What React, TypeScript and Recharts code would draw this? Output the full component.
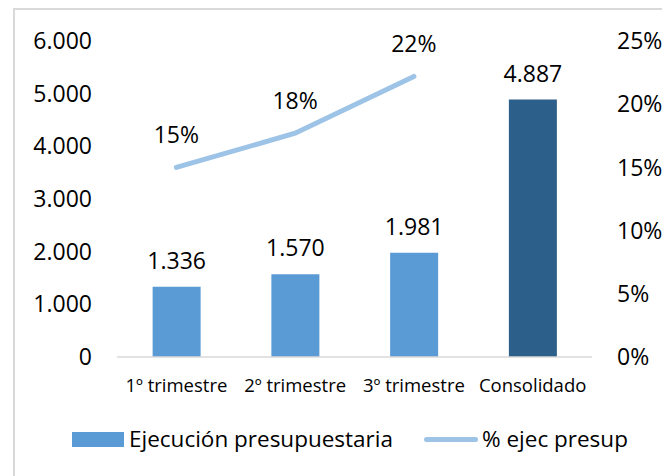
import React from "react";
import { ComposedChart, Bar, Line, XAxis, YAxis, Legend, LabelList, Cell } from "recharts";

const categories = ["1º trimestre", "2º trimestre", "3º trimestre", "Consolidado"];
const ejecucion = [1336, 1570, 1981, 4887];
const pctEjec = [0.15, 0.177, 0.222, null];
const barColors = ["#5B9BD5", "#5B9BD5", "#5B9BD5", "#2C5F8A"];
const leftTicks = [0, 1000, 2000, 3000, 4000, 5000, 6000];
const rightTicks = [0, 0.05, 0.1, 0.15, 0.2, 0.25];

const data = categories.map((name, i) => ({ name, ejecucion: ejecucion[i], pct: pctEjec[i] }));

const FONT = "'Open Sans', sans-serif";

const fmtMiles = (v: number) => String(Math.round(v)).replace(/\B(?=(\d{3})+(?!\d))/g, ".");
const fmtPct = (v: number) => `${Math.round(v * 100)}%`;

const barLabel = (props: any) => {
  const { x, y, width, value } = props;
  return (
    <text x={x + width / 2} y={y - 27} textAnchor="middle" dominantBaseline="central" fontSize={23} fontFamily={FONT} fill="#000">
      {fmtMiles(value)}
    </text>
  );
};

const pctLabel = (props: any) => {
  const { x, y, value } = props;
  if (value == null) return null;
  return (
    <text x={x} y={y - 33} textAnchor="middle" dominantBaseline="central" fontSize={23} fontFamily={FONT} fill="#000">
      {fmtPct(value)}
    </text>
  );
};

const renderLegend = () => (
  <div style={{ position: "relative", width: 662, height: 49, fontFamily: FONT, fontSize: 22.5, color: "#000" }}>
    <div style={{ position: "absolute", left: 72, top: 25, width: 52, height: 15, background: "#5B9BD5" }} />
    <div style={{ position: "absolute", left: 129, top: 17, lineHeight: "30px", whiteSpace: "nowrap" }}>Ejecución presupuestaria</div>
    <div style={{ position: "absolute", left: 424, top: 30, width: 54, height: 5, borderRadius: 3, background: "#9DC3E6" }} />
    <div style={{ position: "absolute", left: 482, top: 17, lineHeight: "30px", whiteSpace: "nowrap" }}>% ejec presup</div>
  </div>
);

export default function App() {
  return (
    <div style={{ position: "absolute", left: 0, top: 0, width: 662, height: 476, overflow: "hidden", background: "#fff" }}>
      <div style={{ position: "absolute", left: 13, top: 8, width: 700, height: 520, border: "2px solid #D9D9D9" }} />
      <div style={{ position: "absolute", left: 0, top: 0 }}>
        <ComposedChart width={662} height={476} data={data} margin={{ top: 41, right: 0, bottom: 20, left: 0 }} barCategoryGap="30%">
          <XAxis
            dataKey="name"
            axisLine={{ stroke: "#D9D9D9", strokeWidth: 1.5 }}
            tickLine={false}
            tickSize={0}
            tickMargin={22}
            height={50}
            interval={0}
            tick={{ fill: "#000", fontSize: 18.5, fontFamily: FONT }}
          />
          <YAxis
            yAxisId="left"
            width={117}
            domain={[0, 6000]}
            ticks={leftTicks}
            tickFormatter={fmtMiles}
            axisLine={false}
            tickLine={false}
            tickSize={0}
            tickMargin={25}
            tick={{ fill: "#000", fontSize: 23, fontFamily: FONT }}
          />
          <YAxis
            yAxisId="right"
            orientation="right"
            width={70}
            domain={[0, 0.25]}
            ticks={rightTicks}
            tickFormatter={fmtPct}
            axisLine={false}
            tickLine={false}
            tickSize={0}
            tickMargin={25}
            tick={{ fill: "#000", fontSize: 23, fontFamily: FONT }}
          />
          <Legend
            verticalAlign="bottom"
            height={49}
            content={renderLegend}
            wrapperStyle={{ left: 0, top: 407, width: 662, height: 49 }}
          />
          <Bar yAxisId="left" dataKey="ejecucion" name="Ejecución presupuestaria" fill="#5B9BD5" isAnimationActive={false}>
            {data.map((d, i) => (
              <Cell key={d.name} fill={barColors[i]} />
            ))}
            <LabelList dataKey="ejecucion" content={barLabel} />
          </Bar>
          <Line
            yAxisId="right"
            dataKey="pct"
            name="% ejec presup"
            type="linear"
            stroke="#9DC3E6"
            strokeWidth={5}
            strokeLinecap="round"
            dot={false}
            activeDot={false}
            isAnimationActive={false}
          >
            <LabelList dataKey="pct" content={pctLabel} />
          </Line>
        </ComposedChart>
      </div>
    </div>
  );
}
